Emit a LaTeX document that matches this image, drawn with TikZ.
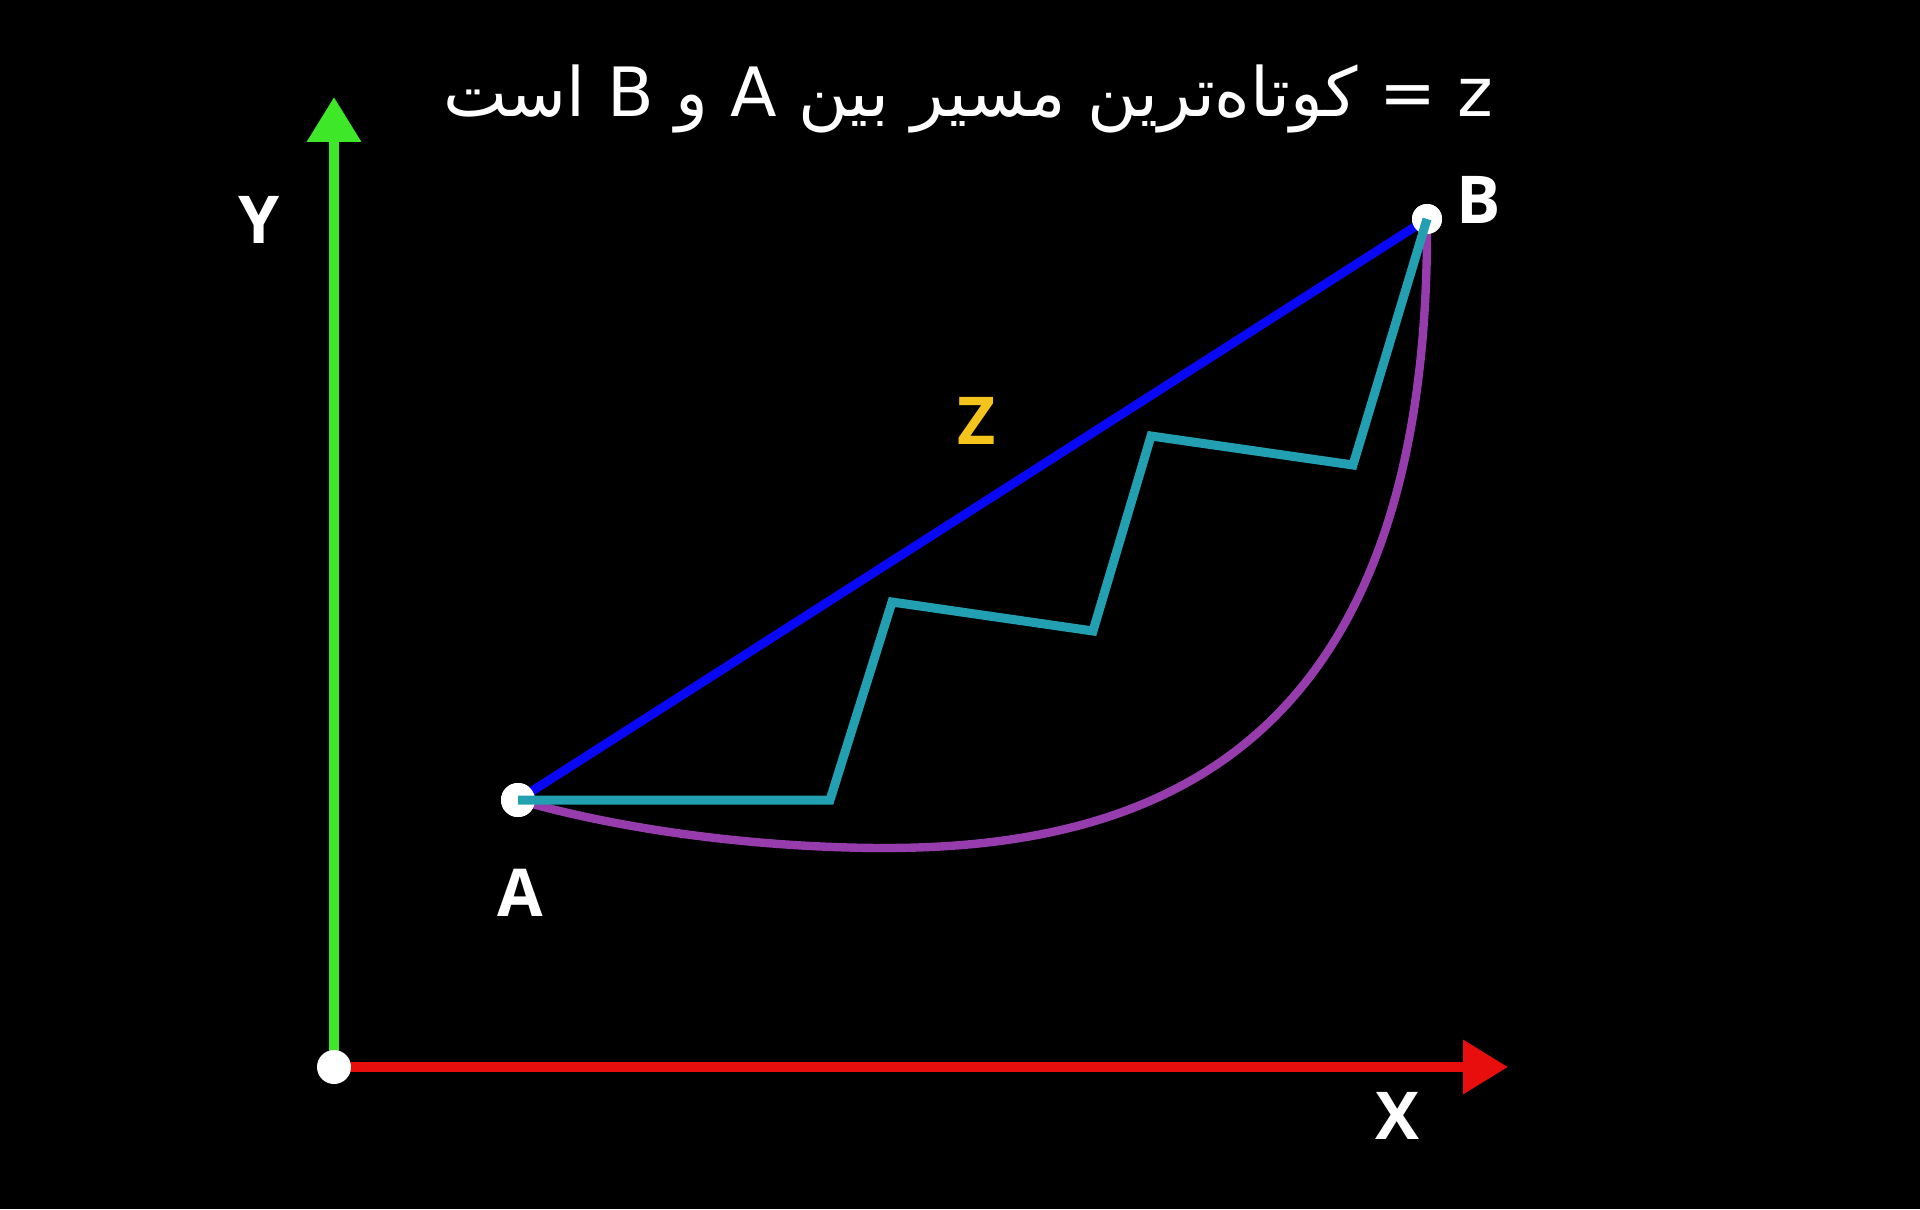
\documentclass[tikz,border=0pt]{standalone}
\usepackage{fontspec}
\setmainfont{Open Sans}
\newfontfamily\arabicfont[Script=Arabic]{DejaVu Sans}
\TeXXeTstate=1
\usetikzlibrary{arrows.meta}
\definecolor{axgreen}{RGB}{62,232,40}
\definecolor{axred}{RGB}{232,14,14}
\definecolor{zblue}{RGB}{8,8,245}
\definecolor{zteal}{RGB}{34,160,178}
\definecolor{zpurple}{RGB}{150,60,172}
\definecolor{zgold}{RGB}{245,196,28}
\tikzset{
  axis/.style={line width=5pt,-{Triangle[length=22.5pt,width=26pt]}},
  dot/.style={circle,fill=white,draw=none,inner sep=0pt,minimum size=#1},
  lbl/.style={text=white,inner sep=0pt,font=\fontsize{33}{38}\selectfont\bfseries},
  pathline/.style={line width=4.5pt},
}
\begin{document}
\begin{tikzpicture}[x=0.5pt,y=-0.5pt]
\fill[black] (0,0) rectangle (1920,1209);
\useasboundingbox (0,0) rectangle (1920,1209);
% title
\node[anchor=base east,text=white,inner sep=0pt,font=\arabicfont\fontsize{34}{40}\selectfont] (title) at (1494,117) {\beginR z = کوتاه‌ترین مسیر بین A و B است\endR};
% axes
\coordinate (O) at (334,1067);
\coordinate (ytip) at (334,97);
\coordinate (xtip) at (1508,1067);
\draw[axis,axgreen] (O) -- (ytip);
\draw[axis,axred] (O) -- (xtip);
\node[dot=17pt] (Odot) at (O) {};
\node[lbl] (Ylbl) at (259,220) {Y};
\node[lbl] (Xlbl) at (1397,1116) {X};
% points
\node[dot=17pt] (A) at (518,800) {};
\node[dot=15pt] (B) at (1427,219) {};
\draw[pathline,zblue] (A.center) -- (B.center);
\draw[line width=4.2pt,zpurple] (A.center) .. controls (640,835) and (780,848) .. (885,848)
   .. controls (1165,848) and (1430,740) .. (B.center);
\node[dot=17pt] at (A) {};
\node[dot=15pt] at (B) {};
\coordinate (t1) at (830,800);
\coordinate (t2) at (892,602);
\coordinate (t3) at (1093,631);
\coordinate (t4) at (1151,436);
\coordinate (t5) at (1353,465);
\draw[pathline,zteal] (A.center) -- (t1) -- (t2) -- (t3) -- (t4) -- (t5) -- (B.center);
\node[lbl] (Albl) at (520,893) {A};
\node[lbl] (Blbl) at (1479,200) {B};
\node[lbl,text=zgold] (Zlbl) at (977,421) {Z};
\end{tikzpicture}
\end{document}
